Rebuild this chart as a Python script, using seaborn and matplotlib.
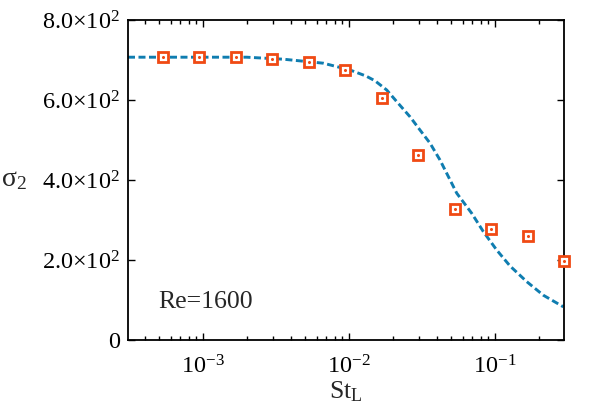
import numpy as np
import pandas as pd
import matplotlib
matplotlib.use("Agg")
import matplotlib.pyplot as plt
import seaborn as sns

# Data
st_points = [5.3e-4, 9.4e-4, 1.67e-3, 2.97e-3, 5.28e-3, 9.4e-3,
             1.67e-2, 2.97e-2, 5.28e-2, 9.4e-2, 0.167, 0.297]
sigma_points = [707, 707, 707, 703, 696, 674, 604, 462, 327, 277, 260, 198]

st_curve = [3.06e-4, 1.0e-3, 1.99e-3, 3.55e-3, 6.67e-3, 0.01016, 0.01306,
            0.01507, 0.01812, 0.02122, 0.02618, 0.03063, 0.03589, 0.0420,
            0.0547, 0.0692, 0.0832, 0.1027, 0.1268, 0.1649, 0.2143, 0.2938]
sigma_curve = [707, 707, 707, 702, 692, 675, 660, 648, 625, 596, 558, 525,
               492, 450, 367, 317, 271, 225, 185, 146, 112, 83]

y_ticks = [0, 200, 400, 600, 800]
y_ticklabels = ["0", r"$2.0{\times}10^{2}$", r"$4.0{\times}10^{2}$",
                r"$6.0{\times}10^{2}$", r"$8.0{\times}10^{2}$"]

line_color = "#0F7DB0"
marker_color = "#F04A14"

sns.set_theme(style="ticks")
plt.rcParams.update({
    "font.family": ["Liberation Serif", "DejaVu Serif"],
    "mathtext.fontset": "custom",
    "mathtext.rm": "Liberation Serif",
    "mathtext.it": "Liberation Serif:italic",
    "mathtext.bf": "Liberation Serif:bold",
    "axes.edgecolor": "black",
    "axes.linewidth": 1.3,
})

curve_df = pd.DataFrame({"St": st_curve, "sigma": sigma_curve})
points_df = pd.DataFrame({"St": st_points, "sigma": sigma_points})

fig, ax = plt.subplots(figsize=(5.92, 4.15), dpi=100)
fig.subplots_adjust(left=0.2162, right=0.9527, bottom=0.1807, top=0.9518)

sns.lineplot(data=curve_df, x="St", y="sigma", ax=ax, color=line_color,
             linewidth=2.1, dashes=False, zorder=2)
ax.lines[-1].set_dashes((2.4, 1.2))

ax.plot(points_df["St"], points_df["sigma"], linestyle="none", marker="s",
        markersize=6.6, markeredgewidth=2.0, markeredgecolor=marker_color,
        markerfacecolor="white", zorder=3, clip_on=False)
ax.plot(points_df["St"], points_df["sigma"], linestyle="none", marker="o",
        markersize=1.2, color=marker_color, zorder=4, clip_on=False)

ax.set_xscale("log")
ax.set_xlim(3.06e-4, 0.297)
ax.set_ylim(0, 800)
ax.set_yticks(y_ticks)
ax.set_yticklabels(y_ticklabels)

ax.tick_params(which="both", direction="in", top=True, right=True,
               colors="black", labelsize=17.5, width=1.0)
ax.tick_params(which="major", length=5, pad=6)
ax.tick_params(which="minor", length=3)
ax.tick_params(axis="x", which="major", pad=11)

ax.set_xlabel(r"$\mathrm{St_L}$", fontsize=18.5, labelpad=1)
ax.set_ylabel(r"$\mathrm{\sigma_2}$", fontsize=20, rotation=0,
              va="center", ha="center")
ax.yaxis.set_label_coords(-0.262, 0.5)

ax.text(0.07, 0.12, "Re=1600", transform=ax.transAxes, fontsize=18.5,
        ha="left", va="center")

fig.savefig("out.png", dpi=100)
